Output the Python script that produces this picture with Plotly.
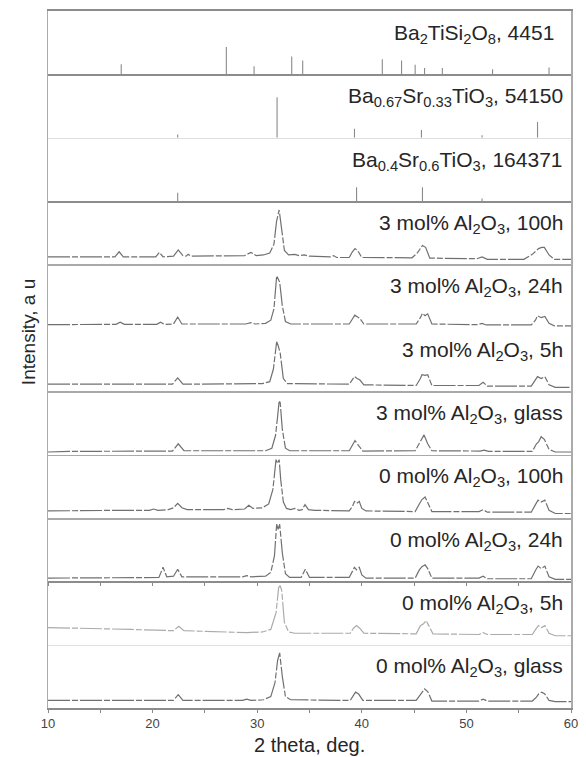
import plotly.graph_objects as go
from plotly.subplots import make_subplots

# ---------------- data ----------------
X_TICKS = [10, 20, 30, 40, 50, 60]

STICK_LABELS = [
    "Ba<sub>2</sub>TiSi<sub>2</sub>O<sub>8</sub>, 4451",
    "Ba<sub>0.67</sub>Sr<sub>0.33</sub>TiO<sub>3</sub>, 54150",
    "Ba<sub>0.4</sub>Sr<sub>0.6</sub>TiO<sub>3</sub>, 164371",
]
STICK_POS_BTS = [17.0, 27.05, 29.7, 33.3, 34.35, 41.96, 43.8, 45.1, 46.0, 47.7, 52.5, 57.9]
STICK_H_BTS = [0.16, 0.43, 0.13, 0.28, 0.22, 0.24, 0.22, 0.15, 0.10, 0.10, 0.08, 0.11]
STICK_POS_BST67 = [22.4, 31.9, 39.3, 45.7, 51.5, 56.8]
STICK_H_BST67 = [0.05, 0.64, 0.14, 0.12, 0.04, 0.25]
STICK_POS_BST40 = [22.4, 39.5, 45.8, 51.5]
STICK_H_BST40 = [0.13, 0.22, 0.22, 0.04]

SAMPLE_LABELS = [
    "3 mol% Al<sub>2</sub>O<sub>3</sub>, 100h",
    "3 mol% Al<sub>2</sub>O<sub>3</sub>, 24h",
    "3 mol% Al<sub>2</sub>O<sub>3</sub>, 5h",
    "3 mol% Al<sub>2</sub>O<sub>3</sub>, glass",
    "0 mol% Al<sub>2</sub>O<sub>3</sub>, 100h",
    "0 mol% Al<sub>2</sub>O<sub>3</sub>, 24h",
    "0 mol% Al<sub>2</sub>O<sub>3</sub>, 5h",
    "0 mol% Al<sub>2</sub>O<sub>3</sub>, glass",
]

X_3_100H = [10, 16.4, 16.8, 17.2, 20.3, 20.65, 21.0, 22.0, 22.45, 22.9, 23.2, 23.4, 23.7, 27, 28.8, 29.4,
            29.9, 30.6, 31.2, 31.6, 31.85, 32.1, 32.35, 32.6, 33.0, 33.6, 34.0, 34.5, 35.0, 37.0, 37.3,
            37.6, 38.8, 39.1, 39.35, 39.6, 40.0, 44.8, 45.3, 45.8, 46.1, 46.5, 51.0, 51.5, 52.0, 55.5,
            56.3, 56.9, 57.2, 57.45, 57.9, 58.4, 60]
Y_3_100H = [0.12, 0.12, 0.20, 0.12, 0.12, 0.19, 0.12, 0.13, 0.23, 0.14, 0.13, 0.16, 0.13, 0.13, 0.14, 0.19,
            0.14, 0.15, 0.18, 0.32, 0.68, 0.86, 0.55, 0.22, 0.15, 0.16, 0.14, 0.15, 0.13, 0.12, 0.14,
            0.11, 0.11, 0.20, 0.25, 0.22, 0.11, 0.105, 0.18, 0.30, 0.27, 0.10, 0.09, 0.12, 0.08, 0.08,
            0.16, 0.25, 0.27, 0.27, 0.15, 0.08, 0.08]

X_3_24H = [10, 16.5, 16.9, 17.3, 20.4, 20.75, 21.1, 22.0, 22.4, 22.8, 28.9, 29.4, 29.8, 30.8, 31.3, 31.6,
           31.86, 32.0, 32.15, 32.4, 32.7, 33.2, 38.8, 39.1, 39.33, 39.6, 39.8, 40.2, 45.2, 45.6, 45.8,
           46.05, 46.3, 46.7, 51.1, 51.5, 51.9, 56.2, 56.6, 56.8, 57.15, 57.5, 57.9, 58.4, 60]
Y_3_24H = [0.05, 0.055, 0.09, 0.055, 0.055, 0.09, 0.055, 0.06, 0.17, 0.06, 0.06, 0.08, 0.06, 0.07, 0.12, 0.30,
           0.82, 0.76, 0.72, 0.35, 0.10, 0.06, 0.06, 0.14, 0.20, 0.17, 0.15, 0.06, 0.06, 0.16, 0.23,
           0.19, 0.22, 0.06, 0.05, 0.07, 0.045, 0.045, 0.12, 0.19, 0.16, 0.18, 0.07, 0.03, 0.03]

X_3_5H = [10, 16.5, 16.9, 17.3, 21.9, 22.4, 22.9, 30.5, 31.2, 31.55, 31.86, 32.0, 32.2, 32.5, 32.9, 38.8,
          39.1, 39.3, 39.55, 39.8, 40.2, 45.2, 45.6, 45.75, 46.05, 46.3, 46.7, 51.2, 51.6, 52.0, 56.2,
          56.6, 56.8, 57.15, 57.5, 57.9, 58.5, 60]
Y_3_5H = [0.11, 0.11, 0.12, 0.11, 0.11, 0.21, 0.11, 0.12, 0.15, 0.35, 0.78, 0.72, 0.60, 0.20, 0.12, 0.11,
          0.18, 0.23, 0.20, 0.18, 0.10, 0.09, 0.20, 0.26, 0.25, 0.26, 0.09, 0.09, 0.14, 0.08, 0.08,
          0.17, 0.23, 0.20, 0.23, 0.10, 0.06, 0.06]

X_3_GLASS = [10, 12, 21.9, 22.45, 23.0, 30.8, 31.4, 31.75, 31.95, 32.1, 32.2, 32.4, 32.7, 33.1, 38.8, 39.1,
             39.35, 39.7, 40.1, 45.1, 45.5, 45.7, 45.95, 46.3, 46.7, 51.3, 51.7, 52.1, 56.3, 56.7, 56.9,
             57.15, 57.45, 57.9, 58.5, 60]
Y_3_GLASS = [0.04, 0.05, 0.055, 0.17, 0.06, 0.06, 0.10, 0.30, 0.60, 0.85, 0.82, 0.40, 0.10, 0.06, 0.06, 0.15,
             0.22, 0.14, 0.055, 0.06, 0.18, 0.22, 0.31, 0.17, 0.06, 0.055, 0.07, 0.05, 0.05, 0.17, 0.20,
             0.28, 0.24, 0.08, 0.04, 0.04]

X_0_100H = [10, 16.5, 16.9, 17.3, 19.7, 20.1, 20.5, 21.5, 22.0, 22.4, 22.8, 23.3, 26.8, 27.2, 27.6, 28.8,
            29.2, 29.6, 30.5, 31.1, 31.5, 31.8, 31.95, 32.1, 32.25, 32.5, 32.8, 33.2, 33.6, 34.0, 34.3,
            34.57, 34.9, 35.5, 38.8, 39.1, 39.3, 39.5, 39.76, 40.0, 40.4, 45.1, 45.5, 45.75, 46.05, 46.3,
            46.7, 51.2, 51.6, 52.0, 56.2, 56.6, 56.85, 57.15, 57.5, 57.9, 58.5, 60]
Y_0_100H = [0.11, 0.12, 0.13, 0.12, 0.12, 0.14, 0.12, 0.13, 0.16, 0.23, 0.16, 0.13, 0.13, 0.15, 0.13, 0.14,
            0.20, 0.15, 0.16, 0.22, 0.45, 0.92, 0.86, 0.92, 0.60, 0.25, 0.15, 0.13, 0.15, 0.12, 0.13,
            0.21, 0.13, 0.12, 0.11, 0.18, 0.26, 0.23, 0.26, 0.15, 0.11, 0.10, 0.22, 0.29, 0.33, 0.25,
            0.10, 0.10, 0.13, 0.09, 0.09, 0.21, 0.28, 0.25, 0.28, 0.12, 0.07, 0.07]

X_0_24H = [10, 20.6, 21.0, 21.35, 22.0, 22.4, 22.8, 28.6, 29.0, 29.4, 30.8, 31.3, 31.65, 31.86, 32.0, 32.15,
           32.4, 32.7, 33.1, 34.2, 34.6, 35.0, 38.8, 39.1, 39.3, 39.5, 39.76, 40.0, 40.4, 45.1, 45.5,
           45.75, 46.05, 46.3, 46.7, 51.2, 51.6, 52.0, 56.2, 56.6, 56.85, 57.15, 57.5, 57.9, 58.5, 60]
Y_0_24H = [0.05, 0.06, 0.22, 0.07, 0.08, 0.19, 0.07, 0.07, 0.09, 0.07, 0.08, 0.14, 0.40, 0.90, 0.82, 0.90,
           0.45, 0.12, 0.06, 0.06, 0.19, 0.06, 0.06, 0.15, 0.22, 0.18, 0.22, 0.10, 0.05, 0.05, 0.18,
           0.23, 0.26, 0.20, 0.05, 0.05, 0.08, 0.04, 0.04, 0.17, 0.24, 0.20, 0.24, 0.07, 0.03, 0.03]

X_0_5H = [10, 14, 18, 22.0, 22.5, 23.0, 26, 29, 30.5, 31.3, 31.8, 32.05, 32.2, 32.35, 32.6, 33.0, 33.6,
          38.9, 39.2, 39.5, 39.8, 40.2, 45.2, 45.6, 45.9, 46.15, 46.4, 46.8, 51.2, 51.6, 52.0, 56.3,
          56.7, 56.9, 57.2, 57.5, 57.9, 58.5, 60]
Y_0_5H = [0.27, 0.26, 0.24, 0.22, 0.29, 0.22, 0.21, 0.19, 0.20, 0.24, 0.50, 0.90, 0.93, 0.85, 0.35, 0.20, 0.18,
          0.18, 0.26, 0.30, 0.26, 0.18, 0.17, 0.30, 0.33, 0.38, 0.30, 0.17, 0.16, 0.19, 0.16, 0.16,
          0.26, 0.30, 0.27, 0.30, 0.18, 0.14, 0.14]

X_0_GLASS = [10, 18, 22.0, 22.45, 22.9, 28.6, 29.0, 29.4, 30.6, 31.3, 31.7, 31.95, 32.15, 32.4, 32.7, 33.2,
             38.9, 39.2, 39.4, 39.7, 40.1, 45.2, 45.6, 46.0, 46.3, 46.7, 51.2, 51.6, 52.0, 56.3, 56.7,
             56.9, 57.2, 57.5, 57.9, 58.5, 60]
Y_0_GLASS = [0.12, 0.12, 0.12, 0.21, 0.12, 0.12, 0.14, 0.12, 0.13, 0.18, 0.40, 0.75, 0.87, 0.50, 0.18, 0.13,
             0.12, 0.20, 0.25, 0.22, 0.12, 0.12, 0.22, 0.30, 0.26, 0.11, 0.11, 0.14, 0.11, 0.11, 0.17,
             0.22, 0.25, 0.22, 0.12, 0.10, 0.10]

# ---------------- figure ----------------
N = 11
FONT = "Liberation Sans, Arial, sans-serif"
fig = make_subplots(rows=N, cols=1, shared_xaxes=True, vertical_spacing=0)

sticks = [(STICK_POS_BTS, STICK_H_BTS), (STICK_POS_BST67, STICK_H_BST67), (STICK_POS_BST40, STICK_H_BST40)]
for i, (pos, hts) in enumerate(sticks):
    xs, ys = [], []
    for p, h in zip(pos, hts):
        xs += [p, p, None]
        ys += [0, h, None]
    fig.add_trace(go.Scatter(x=xs, y=ys, mode="lines", line=dict(color="#8a8a8a", width=1.1),
                             showlegend=False, hoverinfo="skip"), row=i + 1, col=1)

samples = [(X_3_100H, Y_3_100H), (X_3_24H, Y_3_24H), (X_3_5H, Y_3_5H), (X_3_GLASS, Y_3_GLASS),
           (X_0_100H, Y_0_100H), (X_0_24H, Y_0_24H), (X_0_5H, Y_0_5H), (X_0_GLASS, Y_0_GLASS)]
for j, (xv, yv) in enumerate(samples):
    col = "#ababab" if j == 6 else "#707070"
    fig.add_trace(go.Scatter(x=xv, y=yv, mode="lines",
                             line=dict(color=col, width=1.2, dash="22px,2px,6px,2px"),
                             showlegend=False, hoverinfo="skip"), row=j + 4, col=1)

labels = STICK_LABELS + SAMPLE_LABELS
boundary_colors = ["#8c8c8c", "#dedede", "#8c8c8c", "#a9a9a9", "#a9a9a9", "#a9a9a9",
                   "#a9a9a9", "#a9a9a9", "#8c8c8c", "#e2e2e2", "#8c8c8c"]

for r in range(1, N + 1):
    fig.update_yaxes(range=[0, 1], showticklabels=False, ticks="", showgrid=False, zeroline=False,
                     showline=True, linecolor="#ababab", linewidth=1.5, mirror=True, row=r, col=1)
    fig.update_xaxes(range=[10, 60], showgrid=False, zeroline=False, showline=True,
                     linecolor=boundary_colors[r - 1], linewidth=1.6, row=r, col=1)
    yref = "y domain" if r == 1 else f"y{r} domain"
    xr = 0.972 if r == 1 else 0.988
    fig.add_annotation(text=labels[r - 1], xref="paper", yref=yref, x=xr, y=0.64,
                       xanchor="right", yanchor="middle", showarrow=False,
                       font=dict(family=FONT, size=21, color="#262626"))

fig.update_xaxes(mirror=True, row=1, col=1)
fig.update_xaxes(ticks="outside", ticklen=3, tickcolor="#888", dtick=5, showticklabels=False, row=9, col=1)
fig.update_xaxes(tickvals=X_TICKS, ticktext=[str(v) for v in X_TICKS], ticks="outside", ticklen=3,
                 tickcolor="#888", showticklabels=True,
                 minor=dict(dtick=5, ticks="outside", ticklen=3, tickcolor="#888"),
                 tickfont=dict(family=FONT, size=13, color="#444"),
                 row=N, col=1)

PLOT_TOP, PLOT_BOT = 11, 708
PH = PLOT_BOT - PLOT_TOP
fig.add_annotation(text="Intensity, a u", xref="paper", yref="paper", x=-0.038,
                   y=(PLOT_BOT - 332) / PH, xanchor="center", yanchor="middle",
                   textangle=-90, showarrow=False,
                   font=dict(family=FONT, size=19, color="#262626"))
fig.add_annotation(text="2 theta, deg.", xref="paper", yref="paper", x=0.5,
                   y=-(745 - PLOT_BOT) / PH, xanchor="center", yanchor="middle",
                   showarrow=False,
                   font=dict(family=FONT, size=20, color="#262626"))

fig.update_layout(width=586, height=757, margin=dict(l=48, r=8, t=11, b=49),
                  paper_bgcolor="white", plot_bgcolor="white", hovermode=False)

fig.write_html("out.html", config={"displayModeBar": False, "staticPlot": True},
               post_script="document.body.style.margin='0';document.body.style.overflow='hidden';")
